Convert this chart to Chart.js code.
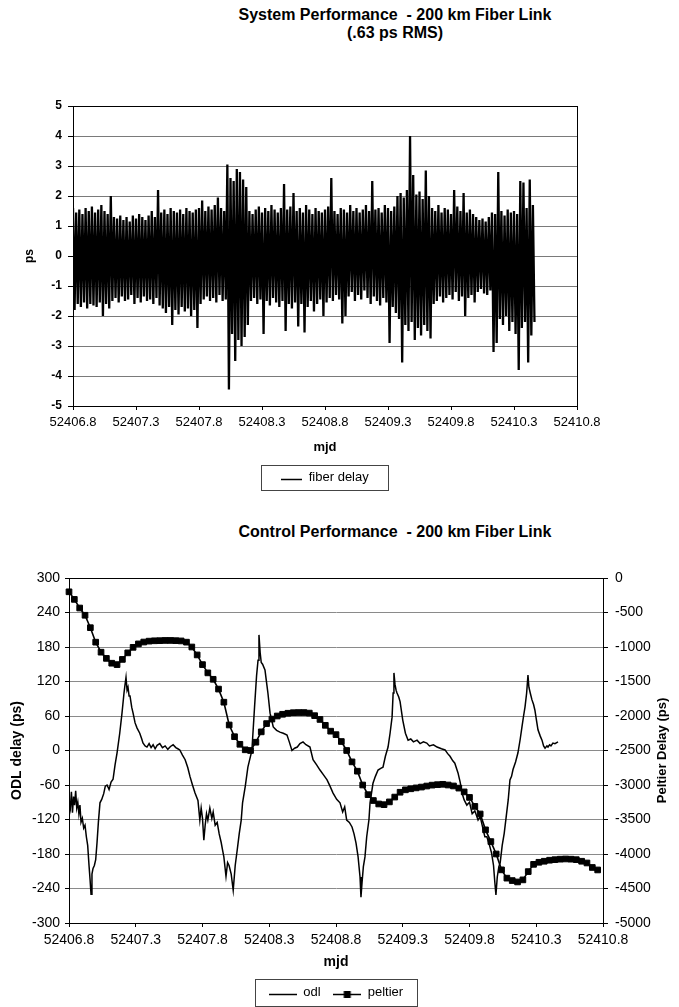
<!DOCTYPE html>
<html lang="en">
<head>
<meta charset="UTF-8">
<title>200 km Fiber Link Performance</title>
<script src="https://cdn.jsdelivr.net/npm/chart.js"></script>
<style>
    body {
        margin: 0;
        background: #fff;
        font-family: 'Liberation Sans', Arial, sans-serif;
    }
    #page { position: relative; width: 679px; height: 1007px; overflow: hidden; }
    /* chart titles sit right of the plot centre in the original */
    .title {
        position: absolute;
        left: 395px;
        transform: translateX(-50%);
        white-space: nowrap;
        text-align: center;
        font-weight: bold;
        font-size: 16px;
        line-height: 18px;
        color: #000;
    }
    #topWrap { position: absolute; left: 0; top: 0; width: 679px; height: 500px; }
    #bottomWrap { position: absolute; left: 0; top: 500px; width: 679px; height: 520px; }
</style>
</head>
<body>
<div id="page">
    <div class="title" style="top:6px">System Performance&nbsp; - 200 km Fiber Link<br>(.63 ps RMS)</div>
    <div class="title" style="top:523px">Control Performance&nbsp; - 200 km Fiber Link</div>
    <div id="topWrap"><canvas id="fiberChart"></canvas></div>
    <div id="bottomWrap"><canvas id="controlChart"></canvas></div>
</div>

<script>
// ---- data ----
const mjdMin = 52406.8;
const mjdMax = 52410.8;

// fiber delay (ps): upper / lower excursion in each 0.025 day slot
const fiberStart = 52406.8;
const fiberStep = 0.025;
const fiberHigh = [
    1.6, 1.45, 1.55, 1.4, 1.6, 1.5, 1.65, 1.45, 1.55, 1.7,
    1.5, 1.4, 2.0, 1.3, 1.25, 1.35, 1.2, 1.3, 1.15, 1.35,
    1.25, 1.4, 1.3, 1.2, 1.35, 1.5, 1.3, 2.2, 1.45, 1.55,
    1.4, 1.6, 1.5, 1.45, 1.55, 1.4, 1.6, 1.5, 1.45, 1.55,
    1.6, 1.85, 1.5, 1.65, 1.55, 1.7, 1.95, 1.6, 1.5, 3.05,
    2.6, 2.5, 2.9, 2.8, 2.55, 2.3, 1.5, 1.4, 1.55, 1.65,
    1.45, 1.6, 1.5, 1.7, 1.55, 1.45, 1.6, 2.4, 1.55, 1.65,
    2.1, 1.5, 1.6, 1.45, 1.7, 1.55, 1.4, 1.6, 1.5, 1.45,
    1.55, 1.65, 2.6, 1.5, 1.4, 1.6, 1.55, 1.45, 1.7, 1.5,
    1.6, 1.45, 1.55, 1.7, 1.5, 2.5, 1.55, 1.6, 1.45, 1.7,
    1.6, 1.5, 1.65, 2.0, 2.1, 1.95, 2.2, 4.0, 2.7, 2.05,
    2.15, 1.9, 2.85, 2.0, 1.6, 1.5, 1.7, 1.45, 1.6, 1.55,
    1.4, 2.2, 1.65, 1.5, 2.1, 1.45, 1.55, 1.4, 1.3, 1.2,
    1.25, 1.15, 1.3, 1.45, 1.4, 2.8, 1.5, 1.35, 1.55, 1.45,
    1.5, 1.4, 2.5, 2.45, 1.6, 2.55, 1.7
];
const fiberLow = [
    -1.8, -1.6, -1.7, -1.55, -1.75, -1.6, -1.65, -1.7, -1.55, -2.0,
    -1.6, -1.75, -1.5, -1.4, -1.55, -1.35, -1.5, -1.45, -1.3, -1.6,
    -1.4, -1.55, -1.35, -1.5, -1.45, -1.6, -1.4, -1.65, -1.75, -1.9,
    -1.7, -2.3, -1.8, -1.95, -1.7, -1.85, -1.75, -2.0, -1.8, -2.4,
    -1.6, -1.45, -1.35, -1.5, -1.4, -1.55, -1.3, -1.5, -1.45, -4.45,
    -2.6, -3.5, -2.8, -3.0, -2.7, -2.3, -1.5, -1.4, -1.6, -1.45,
    -2.6, -1.5, -1.65, -1.4, -1.55, -1.7, -1.5, -2.5, -1.6, -1.75,
    -1.55, -2.35, -1.6, -2.55, -1.7, -1.5, -1.85, -1.6, -1.45, -2.0,
    -1.55, -1.4, -1.5, -1.3, -1.45, -2.25, -2.0, -1.35, -1.2, -1.5,
    -1.3, -1.45, -1.15, -1.4, -1.6, -1.35, -1.5, -1.65, -1.4, -1.55,
    -2.9, -1.7, -1.9, -2.1, -3.55, -2.3, -2.5, -2.2, -2.8, -2.4,
    -2.65, -2.3, -2.5, -2.75, -1.6, -1.5, -1.35, -1.55, -1.4, -1.3,
    -1.45, -1.2, -1.5, -1.35, -2.0, -1.4, -1.3, -1.55, -1.2, -1.1,
    -1.25, -1.3, -1.15, -3.2, -2.9, -2.1, -2.3, -2.0, -2.5, -2.2,
    -2.6, -3.8, -2.4, -2.2, -3.55, -2.65, -2.2
];

// odl delay (ps) as [mjd, value]
const odlPoints = [
    [52406.800,-85],[52406.810,-100],[52406.818,-72],[52406.826,-108],[52406.834,-80],[52406.842,-95],[52406.850,-70],[52406.858,-100],[52406.866,-90],[52406.874,-110],
    [52406.882,-95],[52406.890,-125],[52406.900,-118],[52406.910,-135],[52406.920,-130],[52406.930,-150],[52406.940,-165],[52406.950,-200],[52406.958,-225],[52406.965,-250],
    [52406.972,-215],[52406.980,-205],[52406.990,-200],[52407.000,-190],[52407.010,-160],[52407.020,-125],[52407.032,-91],[52407.045,-85],[52407.060,-75],[52407.072,-62],
    [52407.085,-60],[52407.100,-68],[52407.115,-55],[52407.130,-50],[52407.145,-25],[52407.160,-4],[52407.180,30],[52407.197,65],[52407.212,100],[52407.220,115],
    [52407.227,127],[52407.235,105],[52407.242,110],[52407.250,95],[52407.257,95],[52407.270,75],[52407.280,65],[52407.295,48],[52407.310,39],[52407.330,30],
    [52407.345,20],[52407.354,13],[52407.370,8],[52407.384,6],[52407.400,12],[52407.415,5],[52407.430,10],[52407.445,3],[52407.460,9],[52407.480,12],
    [52407.500,5],[52407.520,8],[52407.540,2],[52407.560,7],[52407.580,10],[52407.600,5],[52407.615,3],[52407.630,1],[52407.650,-8],[52407.670,-16],
    [52407.690,-30],[52407.706,-45],[52407.725,-60],[52407.744,-74],[52407.766,-87],[52407.780,-121],[52407.790,-100],[52407.800,-118],[52407.810,-156],[52407.820,-130],
    [52407.830,-110],[52407.840,-121],[52407.855,-100],[52407.870,-118],[52407.880,-107],[52407.895,-130],[52407.910,-125],[52407.925,-145],[52407.940,-160],[52407.950,-173],
    [52407.960,-185],[52407.976,-219],[52407.988,-195],[52407.999,-200],[52408.015,-215],[52408.030,-243],[52408.045,-200],[52408.060,-173],[52408.075,-145],[52408.090,-121],
    [52408.100,-91],[52408.120,-63],[52408.140,-29],[52408.170,0],[52408.190,76],[52408.205,130],[52408.216,157],[52408.223,201],[52408.232,170],[52408.240,153],
    [52408.250,150],[52408.268,140],[52408.280,118],[52408.290,100],[52408.306,65],[52408.330,41],[52408.355,35],[52408.380,32],[52408.405,30],[52408.433,27],
    [52408.450,15],[52408.470,0],[52408.490,4],[52408.510,6],[52408.530,12],[52408.553,15],[52408.575,10],[52408.605,6],[52408.628,-16],[52408.655,-25],
    [52408.680,-34],[52408.705,-42],[52408.733,-51],[52408.755,-62],[52408.778,-74],[52408.805,-85],[52408.830,-91],[52408.850,-107],[52408.865,-98],[52408.880,-121],
    [52408.900,-125],[52408.920,-133],[52408.935,-145],[52408.950,-161],[52408.965,-184],[52408.980,-220],[52408.987,-255],[52408.995,-230],[52409.005,-202],[52409.017,-185],
    [52409.030,-150],[52409.047,-120],[52409.055,-91],[52409.077,-57],[52409.095,-45],[52409.115,-34],[52409.135,-31],[52409.152,-29],[52409.170,-10],[52409.190,6],
    [52409.205,30],[52409.220,58],[52409.228,100],[52409.234,135],[52409.242,115],[52409.250,105],[52409.257,100],[52409.270,93],[52409.280,85],[52409.300,53],
    [52409.320,30],[52409.340,18],[52409.360,20],[52409.380,15],[52409.407,18],[52409.430,12],[52409.455,15],[52409.480,13],[52409.500,8],[52409.530,10],
    [52409.557,6],[52409.590,3],[52409.617,1],[52409.635,-5],[52409.654,-10],[52409.675,-18],[52409.690,-22],[52409.714,-39],[52409.730,-55],[52409.744,-74],
    [52409.760,-86],[52409.780,-95],[52409.800,-90],[52409.820,-110],[52409.840,-105],[52409.864,-121],[52409.880,-115],[52409.900,-135],[52409.915,-150],[52409.930,-150],
    [52409.950,-165],[52409.965,-178],[52409.980,-200],[52409.990,-230],[52409.998,-251],[52410.008,-220],[52410.020,-202],[52410.030,-195],[52410.045,-165],[52410.060,-144],
    [52410.075,-115],[52410.090,-86],[52410.103,-51],[52410.115,-45],[52410.126,-33],[52410.145,-20],[52410.163,-4],[52410.180,20],[52410.193,41],[52410.205,60],
    [52410.216,76],[52410.228,100],[52410.238,131],[52410.245,110],[52410.255,100],[52410.268,88],[52410.280,80],[52410.290,70],[52410.300,55],[52410.313,36],
    [52410.330,25],[52410.343,18],[52410.355,8],[52410.366,4],[52410.380,8],[52410.388,6],[52410.400,10],[52410.410,8],[52410.425,13],[52410.440,12],
    [52410.463,15]
];

// peltier delay (ps), one marker every 0.04 day
const peltierStart = 52406.8;
const peltierStep = 0.04;
const peltierDelay = [
    -200, -310, -435, -540, -720, -930, -1075, -1165, -1235, -1255,
    -1180, -1085, -1005, -955, -928, -915, -910, -908, -905, -905,
    -908, -912, -930, -1000, -1115, -1255, -1375, -1468, -1610, -1800,
    -2130, -2300, -2410, -2490, -2500, -2380, -2230, -2110, -2045, -2000,
    -1975, -1960, -1952, -1950, -1950, -1958, -1995, -2050, -2135, -2220,
    -2270, -2370, -2500, -2665, -2800, -3000, -3140, -3225, -3275, -3285,
    -3245, -3175, -3105, -3070, -3055, -3042, -3030, -3015, -3002, -2995,
    -2990, -3000, -3014, -3045, -3100, -3180, -3310, -3420, -3650, -3820,
    -4000, -4230, -4350, -4385, -4405, -4375, -4255, -4150, -4120, -4105,
    -4090, -4082, -4075, -4072, -4075, -4082, -4105, -4130, -4195, -4231
];

// ---- build datasets ----
const fiberPoints = [];
fiberHigh.forEach((hi, i) => {
    const t = fiberStart + i * fiberStep;
    fiberPoints.push({ x: t, y: hi });
    fiberPoints.push({ x: t + fiberStep / 2, y: fiberLow[i] });
});
const odlData = odlPoints.map(p => ({ x: p[0], y: p[1] }));
const peltierData = peltierDelay.map((v, i) => ({ x: peltierStart + i * peltierStep, y: v }));

Chart.defaults.font.family = "'Liberation Sans', Arial, sans-serif";
Chart.defaults.color = '#000';

// small legend glyphs
function legendIcon(w, withSquare) {
    const c = document.createElement('canvas');
    c.width = w;
    c.height = 14;
    const g = c.getContext('2d');
    g.strokeStyle = '#000';
    g.lineWidth = 1.5;
    g.beginPath();
    g.moveTo(0, 9.5);
    g.lineTo(w, 9.5);
    g.stroke();
    if (withSquare) {
        g.fillStyle = '#000';
        g.fillRect(w / 2 - 3.5, 6, 7, 7);
    }
    return c;
}

// box round the plot area, box round the legend, rotated right-axis title
const framePlugin = {
    id: 'frame',
    afterDraw(chart, args, opts) {
        const ctx = chart.ctx;
        const a = chart.chartArea;
        ctx.save();
        ctx.strokeStyle = '#000';
        ctx.lineWidth = 1;
        ctx.strokeRect(Math.round(a.left) + 0.5, Math.round(a.top) + 0.5,
            Math.round(a.right - a.left), Math.round(a.bottom - a.top));

        const boxes = chart.legend && chart.legend.legendHitBoxes;
        if (boxes && boxes.length) {
            let l = Infinity, r = -Infinity, t = Infinity, b = -Infinity;
            boxes.forEach(h => {
                l = Math.min(l, h.left);
                r = Math.max(r, h.left + h.width);
                t = Math.min(t, h.top);
                b = Math.max(b, h.top + h.height);
            });
            ctx.strokeStyle = '#444';
            ctx.strokeRect(Math.round(l - opts.padX) + 0.5, Math.round(t - opts.padY) + 0.5,
                Math.round(r - l + 2 * opts.padX), Math.round(b - t + 2 * opts.padY));
        }

        if (opts.sideTitle) {
            ctx.translate(opts.sideTitle.x, (a.top + a.bottom) / 2);
            ctx.rotate(-Math.PI / 2);
            ctx.fillStyle = '#000';
            ctx.font = "bold 13px 'Liberation Sans', Arial, sans-serif";
            ctx.textAlign = 'center';
            ctx.textBaseline = 'middle';
            ctx.fillText(opts.sideTitle.text, 0, 0);
        }
        ctx.restore();
    }
};

const fmtMjd = v => Number(v).toFixed(1);

// ---- System Performance ----
const fiberIcon = legendIcon(21, false);
new Chart(document.getElementById('fiberChart'), {
    type: 'line',
    data: {
        datasets: [{
            label: 'fiber delay',
            data: fiberPoints,
            borderColor: '#000',
            borderWidth: 2.3,
            pointRadius: 0,
            tension: 0,
            fill: false
        }]
    },
    options: {
        responsive: true,
        maintainAspectRatio: false,
        animation: false,
        layout: { padding: { top: 106, right: 102, bottom: 6.5, left: 0 } },
        scales: {
            x: {
                type: 'linear',
                min: mjdMin,
                max: mjdMax,
                ticks: { stepSize: 0.5, autoSkip: false, maxRotation: 0, padding: 5, font: { size: 13 }, callback: fmtMjd },
                grid: { drawOnChartArea: false, tickLength: 4, color: '#000' },
                border: { color: '#000' },
                title: { display: true, text: 'mjd', font: { size: 13, weight: 'bold' }, padding: { top: 0, bottom: 1 } },
                afterFit: s => { s.height = 50; }
            },
            y: {
                min: -5,
                max: 5,
                ticks: { stepSize: 1, padding: 6, font: { size: 12, weight: 'bold' }, callback: v => String(v) },
                grid: { color: '#7a7a7a', tickColor: '#000', tickLength: 5 },
                border: { color: '#000' },
                title: { display: true, text: 'ps', font: { size: 12, weight: 'bold' }, padding: { top: 22.8, bottom: 0 } },
                afterFit: s => { s.width = 73; }
            }
        },
        plugins: {
            legend: {
                position: 'bottom',
                fullSize: false,
                labels: {
                    usePointStyle: true,
                    pointStyleWidth: 21,
                    padding: 14.5,
                    font: { size: 13 },
                    generateLabels: chart => {
                        const items = Chart.defaults.plugins.legend.labels.generateLabels(chart);
                        items.forEach(it => { it.pointStyle = fiberIcon; });
                        return items;
                    }
                }
            },
            tooltip: { enabled: false },
            frame: { padX: 20, padY: 6 }
        }
    },
    plugins: [framePlugin]
});

// ---- Control Performance ----
const controlIcons = [legendIcon(28, false), legendIcon(28, true)];
new Chart(document.getElementById('controlChart'), {
    type: 'line',
    data: {
        datasets: [{
            label: 'odl',
            data: odlData,
            yAxisID: 'y',
            borderColor: '#000',
            borderWidth: 1.5,
            pointRadius: 0,
            tension: 0,
            fill: false
        }, {
            label: 'peltier',
            data: peltierData,
            yAxisID: 'y1',
            borderColor: '#000',
            borderWidth: 1.6,
            pointStyle: 'rect',
            pointRadius: 4,
            pointBorderWidth: 1,
            pointBackgroundColor: '#000',
            pointBorderColor: '#000',
            tension: 0,
            fill: false,
            clip: 6
        }]
    },
    options: {
        responsive: true,
        maintainAspectRatio: false,
        animation: false,
        layout: { padding: { top: 78, right: 0, bottom: 11.5, left: 0 } },
        scales: {
            x: {
                type: 'linear',
                min: mjdMin,
                max: mjdMax,
                ticks: { stepSize: 0.5, autoSkip: false, maxRotation: 0, padding: 5, font: { size: 14 }, callback: fmtMjd },
                grid: { drawOnChartArea: false, tickLength: 4, color: '#000' },
                border: { color: '#000' },
                title: { display: true, text: 'mjd', font: { size: 14, weight: 'bold' }, padding: { top: 0, bottom: 2 } },
                afterFit: s => { s.height = 50; }
            },
            y: {
                position: 'left',
                min: -300,
                max: 300,
                ticks: { stepSize: 60, padding: 5, font: { size: 14 }, callback: v => String(v) },
                grid: { color: '#8a8a8a', tickColor: '#000', tickLength: 4 },
                border: { color: '#000' },
                title: { display: true, text: 'ODL delay (ps)', font: { size: 14, weight: 'bold' }, padding: { top: 8.6, bottom: 0 } },
                afterFit: s => { s.width = 69; }
            },
            y1: {
                position: 'right',
                min: -5000,
                max: 0,
                ticks: { stepSize: 500, padding: 7, font: { size: 14 }, callback: v => String(v) },
                grid: { drawOnChartArea: false, tickLength: 5, color: '#000' },
                border: { color: '#000' },
                afterFit: s => { s.width = 76; }
            }
        },
        plugins: {
            legend: {
                position: 'bottom',
                fullSize: false,
                labels: {
                    usePointStyle: true,
                    pointStyleWidth: 28,
                    padding: 12.5,
                    font: { size: 13 },
                    generateLabels: chart => {
                        const items = Chart.defaults.plugins.legend.labels.generateLabels(chart);
                        items.forEach((it, i) => { it.pointStyle = controlIcons[i]; });
                        return items;
                    }
                }
            },
            tooltip: { enabled: false },
            frame: { padX: 14, padY: 7, sideTitle: { text: 'Peltier Delay (ps)', x: 662 } }
        }
    },
    plugins: [framePlugin]
});
</script>
</body>
</html>
